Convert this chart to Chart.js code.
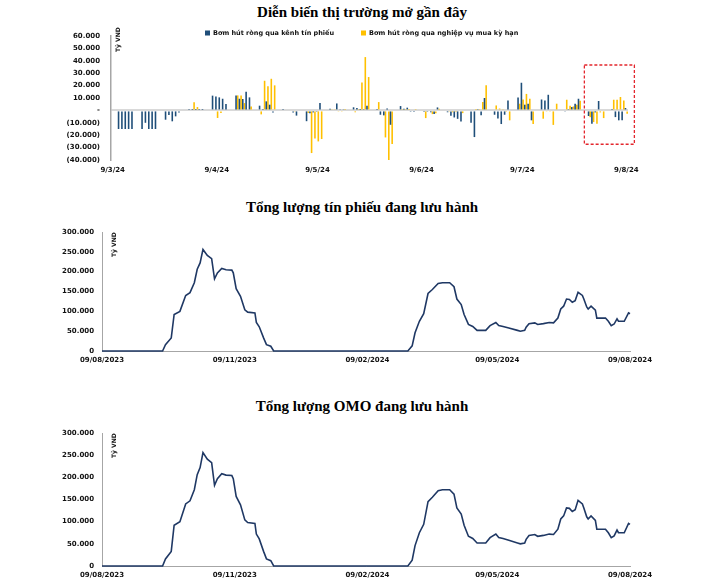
<!DOCTYPE html>
<html lang="vi">
<head>
<meta charset="utf-8">
<title>Diễn biến thị trường mở gần đây</title>
<script src="https://cdn.jsdelivr.net/npm/chart.js@4.4.1/dist/chart.umd.min.js"></script>
<style>
  html, body { margin: 0; padding: 0; background: #fff; }
  #page { position: relative; width: 703px; height: 584px; overflow: hidden; }
  canvas { position: absolute; left: 0; }
  .title {
    position: absolute; left: 362px; transform: translateX(-50%); white-space: nowrap;
    font: bold 15px "Liberation Serif", "Times New Roman", serif; color: #000;
  }
</style>
</head>
<body>
<div id="page">
  <div class="title" style="top:4px">Diễn biến thị trường mở gần đây</div>
  <canvas id="flowChart" width="703" height="185" style="top:0"></canvas>
  <div class="title" style="top:199px">Tổng lượng tín phiếu đang lưu hành</div>
  <canvas id="billChart" width="703" height="185" style="top:190px"></canvas>
  <div class="title" style="top:398px">Tổng lượng OMO đang lưu hành</div>
  <canvas id="omoChart" width="703" height="194" style="top:390px"></canvas>
</div>
<script>
/* Số liệu tính theo nghìn tỷ VND */

// Biểu đồ 1: từng ngày từ 9/3/24 (thứ Bảy) tới 9/8/24
const flowStart = new Date(2024, 2, 9);
const flowDays = 154;
const flowTickDays = [0, 31, 61, 92, 122, 153];
const flowTickLabels = ['9/3/24', '9/4/24', '9/5/24', '9/6/24', '9/7/24', '9/8/24'];

// mỗi dòng là một tuần: T7, CN, T2, T3, T4, T5, T6
const billFlow = [
  [0, 0, -15, -15, -15, -15, -15],
  [0, 0, -15, -10, -15, -15, -15],
  [0, 0, -7.5, -3.7, -8.8, -4.8, -1.6],
  [0, 0, 0.3, 0.3, 0.3, 0.3, 0.3],
  [0, 0, 11.9, 11.3, 10.5, 9.4, 5.1],
  [0, 0, 12.1, 9.4, 9.2, 15, 10.5],
  [0, 0, 3.8, 1.1, 7.3, 4.6, -1.6],
  [0, 0, 0.3, 0, 0, -1.6, -4.2],
  [0, 0, -8.7, -2.2, -1.6, -0.5, 5.9],
  [0, 0, 1.3, 0.8, 5.6, 0.5, 1],
  [0, 0, 2.5, 1.9, 0.3, 0.5, 3.8],
  [0, 0, 0.3, -3.5, -4, 1.6, -11.6],
  [0, 0, 3.5, 1.3, 2.2, -0.5, -1.3],
  [0, 0, -1.3, -0.5, -1.5, -3, 2.4],
  [0, 0, -1.5, -4.3, -5.7, -6.8, -8.9],
  [0, 0, -10, -21.5, 0.5, -4, 10],
  [0, 0, -3.5, -6.5, -11, -3.5, 8],
  [0, 0, 10.5, 22.3, 4.6, 5.4, -8],
  [0, 0, 8.8, 8, 12.6, 0, 0],
  [0, 0, -1, 0.5, 2.7, 5.4, 9.4],
  [0, 0, -4.5, -10.8, -1.6, 7.6, 0],
  [0, 0, 0.3, -5.4, -8, -8, 1.9]
];
const repoFlow = [
  [0, 0, 0, 0, 0, 0, 0],
  [0, 0, 0, 0, 0, 0, 0],
  [0, 0, 0, 0, 0, 0, 0],
  [0, 0, 0, 6.5, 2.7, 0, 0],
  [0, 0, 0, -6.1, -2.1, 0, 0],
  [0, 0, 12.1, 12.1, 5.9, 0, 3.2],
  [0, 0, -3.2, 23.9, 19.4, 25.5, 20.2],
  [0, 0, 0, 0, 0, -1, 0],
  [0, 0, -2, -34.4, -22.6, -25, -23.1],
  [0, 0, 1, 1, -1, -1, 0.3],
  [0, 0, -1.5, 0.5, 22.5, 43, 26.9],
  [0, 0, 6.7, 0, -21.8, -40, -27],
  [0, 0, 0.5, 0.5, 0.3, 0, 0.5],
  [0, 0, -6.2, 0, -3, -2.2, 1.3],
  [0, 0, -1, -1.5, -0.5, 0, -2.2],
  [0, 0, 0, 0.3, 0.5, 6.7, 20.2],
  [0, 0, 4, 1.5, 1, -0.5, -8],
  [0, 0, 5.4, 8.8, 13.3, 9.4, -11],
  [0, 0, -6.7, -1, -1, -11.7, 5.4],
  [0, 0, 8.6, 3.8, 3.2, 4.6, 7.8],
  [0, 0, -5.5, -9.4, -10.8, -1.6, -6.2],
  [0, 0, 8.6, 8.6, 10.8, 8, -2.7]
];

// Biểu đồ 2 và 3: số ngày kể từ 09/08/2023
const stockTickDays = [0, 92, 184, 274, 366];
const stockTickLabels = ['09/08/2023', '09/11/2023', '09/02/2024', '09/05/2024', '09/08/2024'];

const billDays = [0, 42, 44, 48, 50, 54, 58, 61, 64, 66, 68, 70, 73, 76, 78, 80, 83, 86, 90, 91,
  93, 96, 99, 101, 106, 107, 109, 112, 114, 117, 119, 212, 215, 217, 220, 223, 226, 229, 233, 236,
  241, 244, 246, 249, 251, 254, 257, 260, 266, 269, 273, 275, 278, 282, 288, 290, 293, 294, 296, 300,
  302, 306, 310, 313, 316, 318, 320, 322, 324, 326, 328, 330, 333, 334, 336, 337, 339, 342, 343, 349,
  351, 353, 355, 357, 358, 362, 365, 366];
const billStock = [0, 0, 16, 33, 92, 100, 140, 147, 172, 206, 222, 256, 241, 233, 182, 197, 208, 205, 204, 197,
  157, 138, 104, 98, 96, 72, 61, 33, 16, 12, 0, 0, 13, 46, 75, 94, 145, 155, 170, 172,
  172, 162, 131, 117, 92, 67, 62, 52, 52, 64, 72, 64, 62, 58, 52, 50, 52, 60, 69, 71,
  67, 69, 72, 71, 83, 106, 113, 131, 130, 123, 127, 148, 140, 131, 111, 106, 113, 103, 83, 83,
  75, 64, 68, 81, 75, 75, 96, 94];

const omoDays = billDays;
const omoStock = [0, 0, 16, 33, 92, 100, 140, 147, 172, 206, 222, 256, 241, 233, 182, 197, 208, 205, 204, 197,
  157, 138, 104, 98, 96, 72, 61, 33, 16, 12, 0, 0, 13, 46, 75, 94, 145, 155, 170, 172,
  172, 162, 131, 117, 92, 67, 62, 52, 52, 64, 72, 64, 62, 58, 52, 50, 52, 60, 69, 71,
  67, 69, 72, 71, 83, 106, 113, 131, 130, 123, 127, 148, 140, 131, 111, 106, 113, 103, 83, 83,
  75, 64, 68, 81, 75, 75, 96, 94];

const BLUE = '#1f4e79';
const YELLOW = '#ffc000';
const LINE = '#1f3864';
const AXIS = '#a6a6a6';
const TEXT = '#111';
const tickFont = { family: 'DejaVu Sans', size: 7, weight: 'bold' };

Chart.defaults.font.family = 'DejaVu Sans';

// chữ "Tỷ VND" dựng đứng cạnh trục tung
const unitLabel = {
  id: 'unitLabel',
  afterDraw(chart, args, opts) {
    const { ctx, chartArea } = chart;
    ctx.save();
    ctx.translate(chartArea.left + opts.dx, chartArea.top + opts.dy);
    ctx.rotate(-Math.PI / 2);
    ctx.font = 'bold 6px "DejaVu Sans"';
    ctx.fillStyle = TEXT;
    ctx.textBaseline = 'middle';
    ctx.fillText('Tỷ VND', 0, 0);
    ctx.restore();
  }
};

// chú thích vẽ tay, nằm đè lên đầu vùng vẽ như bản gốc
const flowLegend = {
  id: 'flowLegend',
  afterDraw(chart, args, opts) {
    const { ctx } = chart;
    ctx.save();
    ctx.font = 'bold 6.5px "DejaVu Sans"';
    ctx.textBaseline = 'middle';
    chart.data.datasets.forEach((ds, i) => {
      const x = opts.x[i];
      ctx.fillStyle = ds.backgroundColor;
      ctx.fillRect(x, opts.y - 2.5, 5, 5);
      ctx.fillStyle = TEXT;
      ctx.fillText(ds.label, x + 8, opts.y);
    });
    ctx.restore();
  }
};

// khung đỏ nét đứt đánh dấu giai đoạn gần nhất
const focusBox = {
  id: 'focusBox',
  afterDraw(chart, args, opts) {
    const { ctx, scales } = chart;
    const x0 = scales.x.getPixelForValue(opts.from), x1 = scales.x.getPixelForValue(opts.to);
    const y0 = scales.y.getPixelForValue(opts.top), y1 = scales.y.getPixelForValue(opts.bottom);
    ctx.save();
    ctx.strokeStyle = '#e3262d';
    ctx.lineWidth = 1.3;
    ctx.setLineDash([3, 2]);
    ctx.strokeRect(x0, y0, x1 - x0, y1 - y0);
    ctx.restore();
  }
};

const flowLabels = Array.from({ length: flowDays }, (_, i) => {
  const d = new Date(flowStart.getFullYear(), flowStart.getMonth(), flowStart.getDate() + i);
  return `${d.getDate()}/${d.getMonth() + 1}/24`;
});

const flowNeg = v => v === 0 ? '-' : v < 0 ? `(${-v}.000)` : `${v}.000`;

new Chart(document.getElementById('flowChart'), {
  type: 'bar',
  data: {
    labels: flowLabels,
    datasets: [
      { label: 'Bơm hút ròng qua kênh tín phiếu', data: billFlow.flat(), backgroundColor: BLUE,
        categoryPercentage: 1, barPercentage: 0.95 },
      { label: 'Bơm hút ròng qua nghiệp vụ mua kỳ hạn', data: repoFlow.flat(), backgroundColor: YELLOW,
        categoryPercentage: 1, barPercentage: 0.95 }
    ]
  },
  options: {
    responsive: false,
    animation: false,
    devicePixelRatio: 1,
    layout: { padding: { left: 0, right: 75, top: 36, bottom: 0 } },
    plugins: {
      legend: { display: false },
      tooltip: { enabled: false },
      unitLabel: { dx: 7, dy: 16 },
      flowLegend: { x: [205, 361], y: 33 },
      focusBox: { from: 140.5, to: 155.4, top: 36.6, bottom: -27.3 }
    },
    scales: {
      x: {
        grid: { display: false, drawTicks: false },
        border: { display: false },
        ticks: {
          autoSkip: false, maxRotation: 0, padding: 6, color: TEXT, font: tickFont,
          callback: (v, i) => {
            const k = flowTickDays.indexOf(i);
            return k >= 0 ? flowTickLabels[k] : null;
          }
        },
        afterFit: s => { s.height = 25; }
      },
      y: {
        min: -40, max: 60,
        ticks: { stepSize: 10, padding: 11, color: TEXT, font: tickFont, callback: flowNeg },
        grid: {
          drawTicks: false, lineWidth: 2,
          color: c => (c.tick && c.tick.value === 0) ? '#d9d9d9' : 'rgba(0,0,0,0)'
        },
        border: { display: true, color: AXIS, width: 1.5 },
        afterFit: s => { s.width = 111; }
      }
    }
  },
  plugins: [unitLabel, flowLegend, focusBox]
});

function stockChart(id, days, values, padTop, xHeight) {
  return new Chart(document.getElementById(id), {
    type: 'line',
    data: {
      datasets: [{
        data: days.map((d, i) => ({ x: d, y: values[i] })),
        borderColor: LINE, borderWidth: 1.6, pointRadius: 0, tension: 0, clip: 4
      }]
    },
    options: {
      responsive: false,
      animation: false,
      devicePixelRatio: 1,
      layout: { padding: { left: 0, right: 73, top: padTop, bottom: 0 } },
      plugins: {
        legend: { display: false },
        tooltip: { enabled: false },
        unitLabel: { dx: 12, dy: 25 }
      },
      scales: {
        x: {
          type: 'linear', min: 0, max: 366,
          afterBuildTicks: s => { s.ticks = stockTickDays.map(v => ({ value: v })); },
          ticks: {
            autoSkip: false, maxRotation: 0, padding: 5, color: TEXT, font: tickFont,
            callback: v => stockTickLabels[stockTickDays.indexOf(v)]
          },
          grid: { display: false, drawTicks: false },
          border: { display: true, color: AXIS, width: 1 },
          afterFit: s => { s.height = xHeight; }
        },
        y: {
          min: 0, max: 300,
          ticks: { stepSize: 50, padding: 8, color: TEXT, font: tickFont,
            callback: v => v === 0 ? '0' : `${v}.000` },
          grid: { display: false, drawTicks: false },
          border: { display: true, color: AXIS, width: 1 },
          afterFit: s => { s.width = 102; }
        }
      }
    },
    plugins: [unitLabel]
  });
}

stockChart('billChart', billDays, billStock, 42, 24);
stockChart('omoChart', omoDays, omoStock, 43, 18);
</script>
</body>
</html>
